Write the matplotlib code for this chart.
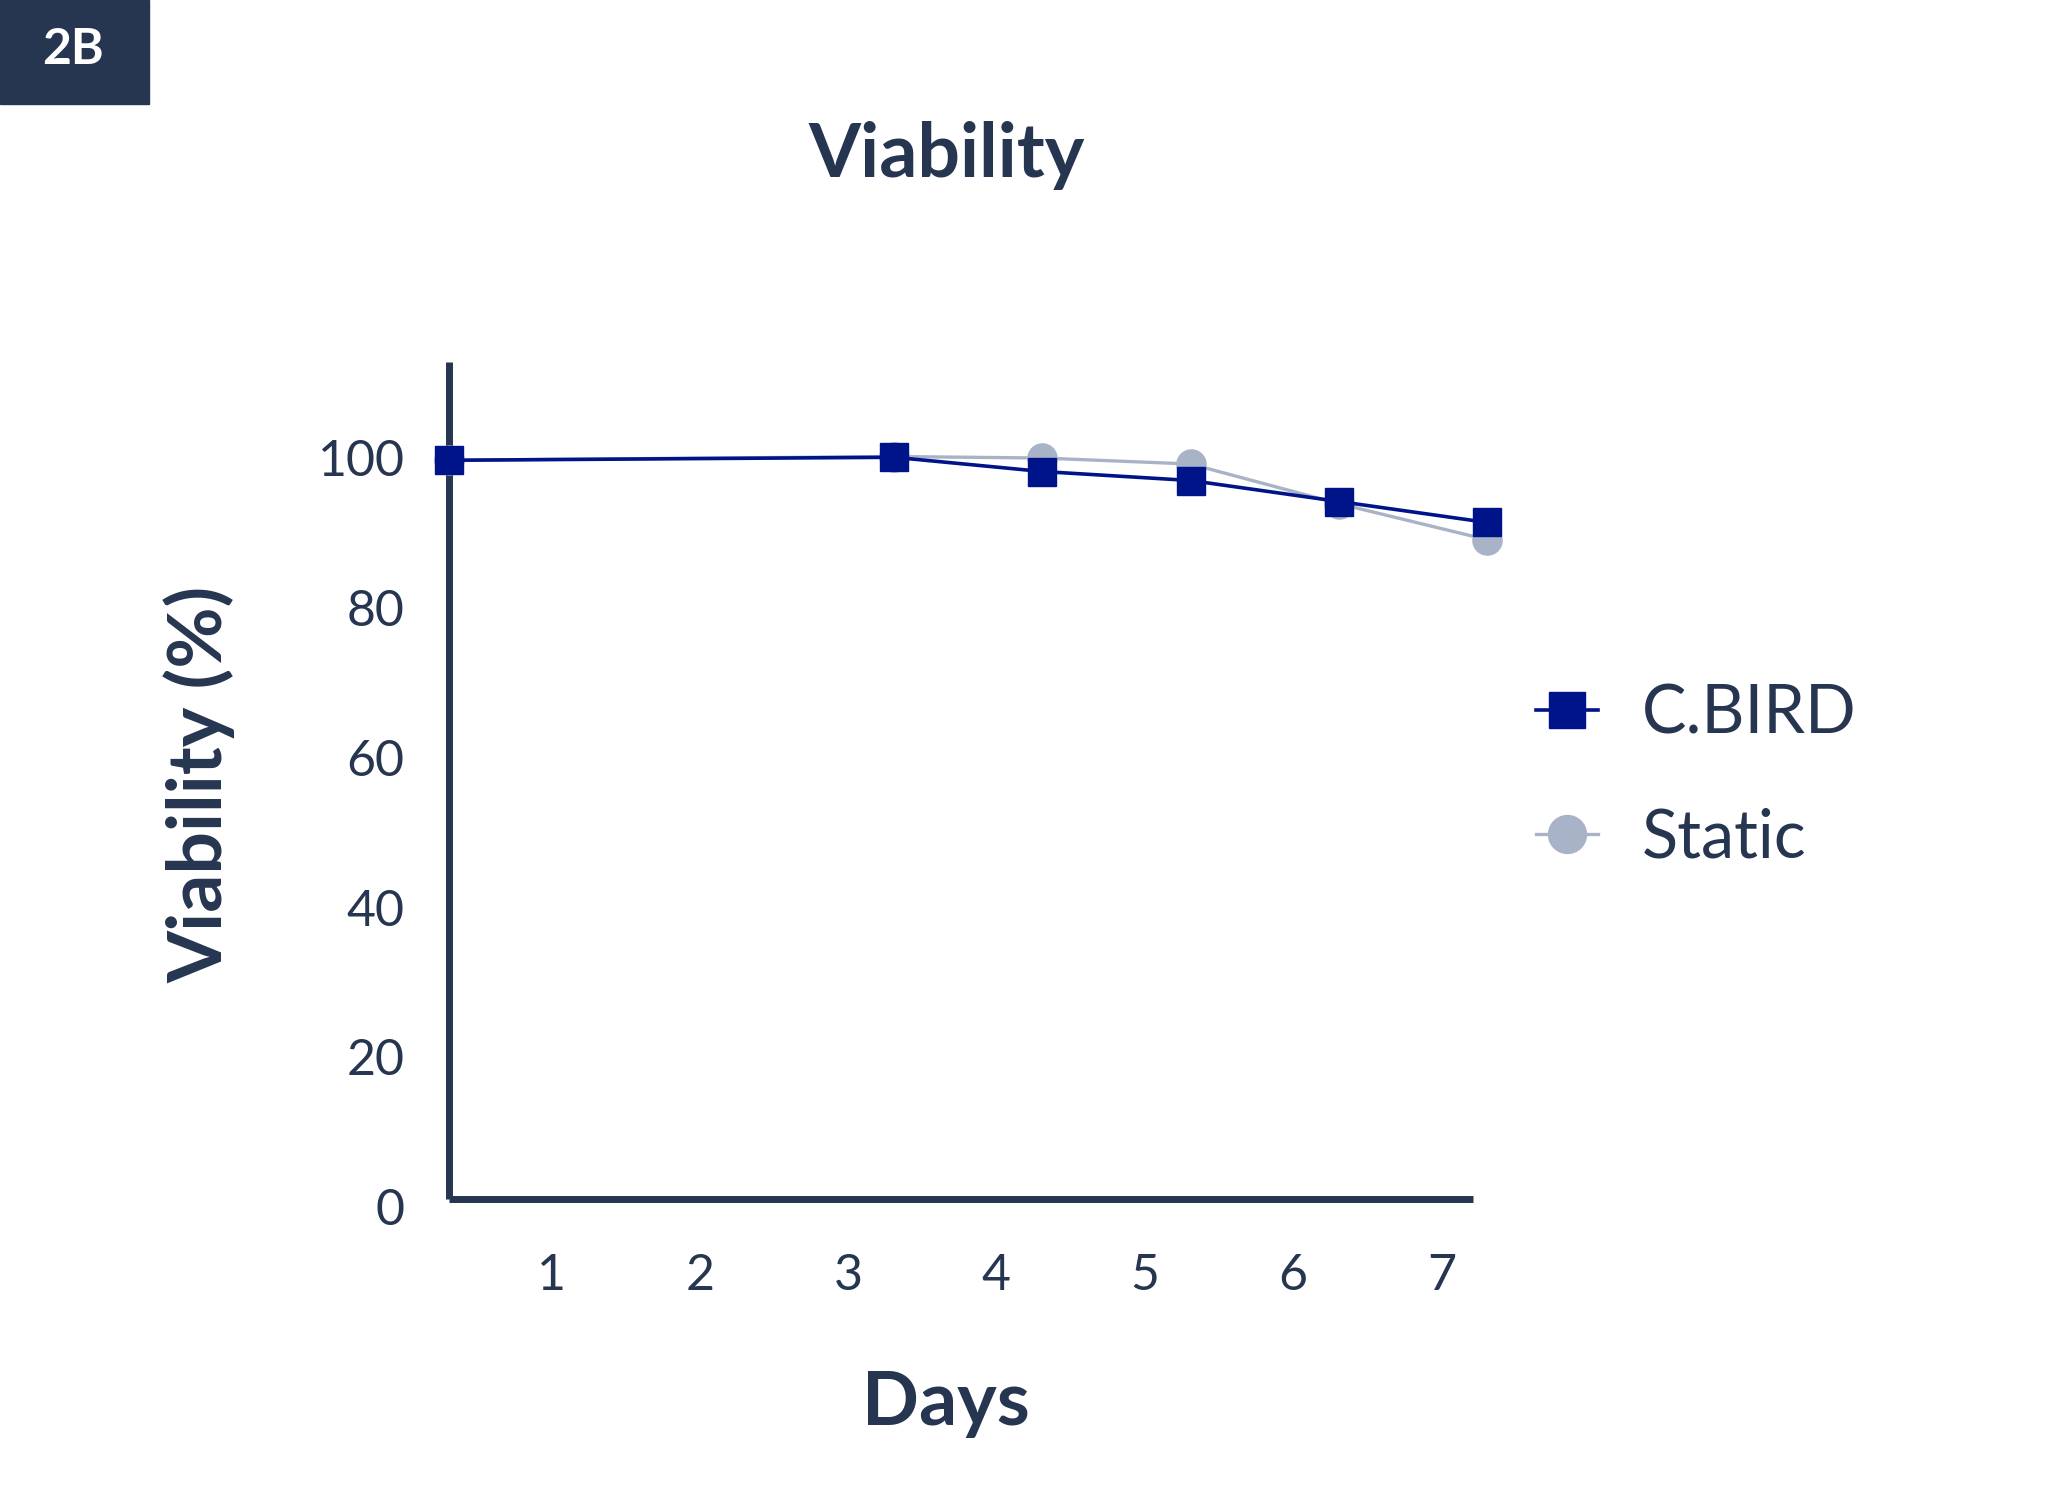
import matplotlib
matplotlib.use("Agg")
import matplotlib.pyplot as plt

# data
days = [0, 3, 4, 5, 6, 7]
cbird = [99.6, 100.0, 98.1, 96.9, 94.1, 91.3]
static = [99.6, 100.1, 99.9, 99.1, 93.8, 89.0]
tick_days = [1, 2, 3, 4, 5, 6, 7]
y_ticks = [0, 20, 40, 60, 80, 100]

NAVY = "#263550"
BLUE = "#00148a"
GREY = "#a9b3c8"

plt.rcParams['font.family'] = ['Lato', 'DejaVu Sans']

fig = plt.figure(figsize=(20.48, 14.90), dpi=100)
ax = fig.add_axes([0.2192, 0.1900, 0.4998, 0.5670])

ax.plot(days, static, color=GREY, lw=2.4, marker='o', ms=21,
        label='Static', clip_on=False, zorder=3)
ax.plot(days, cbird, color=BLUE, lw=2.6, marker='s', ms=20,
        label='C.BIRD', clip_on=False, zorder=4)

# the x axis line sits just above zero in the original
base = 1.05
ax.set_xlim(0, 6.9)
ax.set_ylim(0, 112.7)

# the day labels sit a bit left of the data points in the original
shift = 0.31
ax.set_xticks([d - shift for d in tick_days])
ax.set_xticklabels([str(d) for d in tick_days])
ax.set_yticks(y_ticks)
ax.tick_params(axis='both', length=0, labelsize=36, colors=NAVY)
ax.tick_params(axis='x', pad=38.5)
ax.tick_params(axis='y', pad=32)

for s in ['top', 'right']:
    ax.spines[s].set_visible(False)
for s in ['left', 'bottom']:
    ax.spines[s].set_linewidth(5)
    ax.spines[s].set_color(NAVY)
    ax.spines[s].set_capstyle('butt')
ax.spines['bottom'].set_position(('data', base))
ax.spines['left'].set_bounds(base, 112.7)

handles, labels = ax.get_legend_handles_labels()
leg = ax.legend(handles[::-1], labels[::-1], loc='center left',
                bbox_to_anchor=(0.750, 0.479), bbox_transform=fig.transFigure,
                frameon=False, fontsize=48, markerscale=1.3,
                handlelength=0.93, handletextpad=0.66, labelspacing=0.93,
                borderpad=0, borderaxespad=0)
for t in leg.get_texts():
    t.set_color(NAVY)

fig.text(0.462, 1 - 155 / 1490, 'Viability', ha='center', va='center',
         fontsize=54, fontweight='bold', color=NAVY)
fig.text(0.462, 1 - 1404 / 1490, 'Days', ha='center', va='center',
         fontsize=54, fontweight='bold', color=NAVY)
fig.text(200 / 2048, 1 - 784 / 1490, 'Viability (%)', ha='center', va='center',
         rotation=90, fontsize=54, fontweight='bold', color=NAVY)

# panel tag in the corner
fig.patches.append(plt.Rectangle((0, 1 - 104 / 1490), 149 / 2048, 104 / 1490,
                                 transform=fig.transFigure, color=NAVY))
fig.text(73 / 2048, 1 - 50 / 1490, '2B', ha='center', va='center',
         fontsize=36, fontweight='bold', color='white')

fig.savefig('out.png', dpi=100, facecolor='white')
